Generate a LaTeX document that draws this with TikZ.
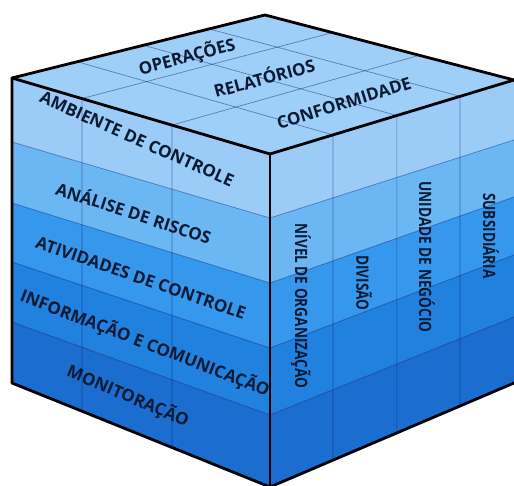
\documentclass[tikz,border=0pt]{standalone}
\usepackage{fontspec}
\setmainfont{Open Sans}
\usetikzlibrary{calc}
\definecolor{bandA}{HTML}{9ACCF7}
\definecolor{bandB}{HTML}{6AB7F4}
\definecolor{bandC}{HTML}{3598EC}
\definecolor{bandD}{HTML}{2181DF}
\definecolor{bandE}{HTML}{1B6DCF}
\definecolor{topface}{HTML}{9DCFF8}
\definecolor{ink}{HTML}{0C1A33}
\begin{document}
\begin{tikzpicture}[x=1pt, y=-1pt,
        edge/.style={line width=2.8pt, line join=round, line cap=round},
        grid/.style={line width=0.7pt, draw=black!70!blue, opacity=0.4},
        lbl/.style={font=\bfseries\fontsize{17}{17}\selectfont, text=ink, inner sep=0pt},
        side/.style={lbl, rotate=-90, xscale=0.8}]
        \useasboundingbox (0,0) rectangle (514,486);
        \clip (0,0) rectangle (514,486);

        % corners of the cube
        \coordinate (L) at (12,78);
        \coordinate (B) at (265,15);
        \coordinate (F) at (270,154);
        \coordinate (R) at (514,80);
        \coordinate (LB) at (12,383);
        \coordinate (FB) at (270,487);
        \coordinate (RB) at (514,383);

        % band limits on the three vertical edges
        \coordinate (l1) at (12,142);
        \coordinate (l2) at (12,203);
        \coordinate (l3) at (12,262);
        \coordinate (l4) at (12,322);
        \coordinate (f1) at (270,218);
        \coordinate (f2) at (270,283);
        \coordinate (f3) at (270,348);
        \coordinate (f4) at (270,415);
        \coordinate (r1) at (514,140);
        \coordinate (r2) at (514,197);
        \coordinate (r3) at (514,255);
        \coordinate (r4) at (514,317);

        % faces
        \fill[topface] (L) -- (B) -- (R) -- (F) -- cycle;
        \fill[bandA] (L) -- (F) -- (R) -- (r1) -- (f1) -- (l1) -- cycle;
        \fill[bandB] (l1) -- (f1) -- (r1) -- (r2) -- (f2) -- (l2) -- cycle;
        \fill[bandC] (l2) -- (f2) -- (r2) -- (r3) -- (f3) -- (l3) -- cycle;
        \fill[bandD] (l3) -- (f3) -- (r3) -- (r4) -- (f4) -- (l4) -- cycle;
        \fill[bandE] (l4) -- (f4) -- (r4) -- (RB) -- (FB) -- (LB) -- cycle;

        % grid
        \draw[grid] (l1) -- (f1) -- (r1);
        \draw[grid] (l2) -- (f2) -- (r2);
        \draw[grid] (l3) -- (f3) -- (r3);
        \draw[grid] (l4) -- (f4) -- (r4);
        \draw[grid] ($(B)!0.271!(R)$) -- ($(L)!0.271!(F)$) -- ($(LB)!0.271!(FB)$);
        \draw[grid] ($(B)!0.62!(R)$) -- ($(L)!0.62!(F)$) -- ($(LB)!0.62!(FB)$);
        \draw[grid] ($(L)!0.258!(B)$) -- ($(F)!0.258!(R)$) -- ($(FB)!0.258!(RB)$);
        \draw[grid] ($(L)!0.52!(B)$) -- ($(F)!0.52!(R)$) -- ($(FB)!0.52!(RB)$);
        \draw[grid] ($(L)!0.779!(B)$) -- ($(F)!0.779!(R)$) -- ($(FB)!0.779!(RB)$);

        % labels
        \node[lbl, rotate=15] (oper) at (187,57) {OPERAÇÕES};
        \node[lbl, rotate=15] (rel) at (264,77) {RELATÓRIOS};
        \node[lbl, rotate=17] (conf) at (344,103) {CONFORMIDADE};

        \node[lbl, rotate=-24] (amb) at (137,139) {AMBIENTE DE CONTROLE};
        \node[lbl, rotate=-18] (ana) at (134,212) {ANÁLISE DE RISCOS};
        \node[lbl, rotate=-19] (ativ) at (141,278) {ATIVIDADES DE CONTROLE};
        \node[lbl, rotate=-21] (info) at (145,343) {INFORMAÇÃO E COMUNICAÇÃO};
        \node[lbl, rotate=-23] (mon) at (128,396) {MONITORAÇÃO};

        \node[side] (niv) at (301,306) {NÍVEL DE ORGANIZAÇÃO};
        \node[side] (div) at (364,283) {DIVISÃO};
        \node[side] (uni) at (427,257) {UNIDADE DE NEGÓCIO};
        \node[side] (sub) at (491,236) {SUBSIDIÁRIA};

        % outline
        \draw[edge] (LB) -- (L) -- (B) -- (R);
        \draw[edge] (L) -- (F) -- (R);
        \draw[edge] (F) -- (FB);
        \draw[edge] (LB) -- (FB) -- (RB);
    \end{tikzpicture}
\end{document}
